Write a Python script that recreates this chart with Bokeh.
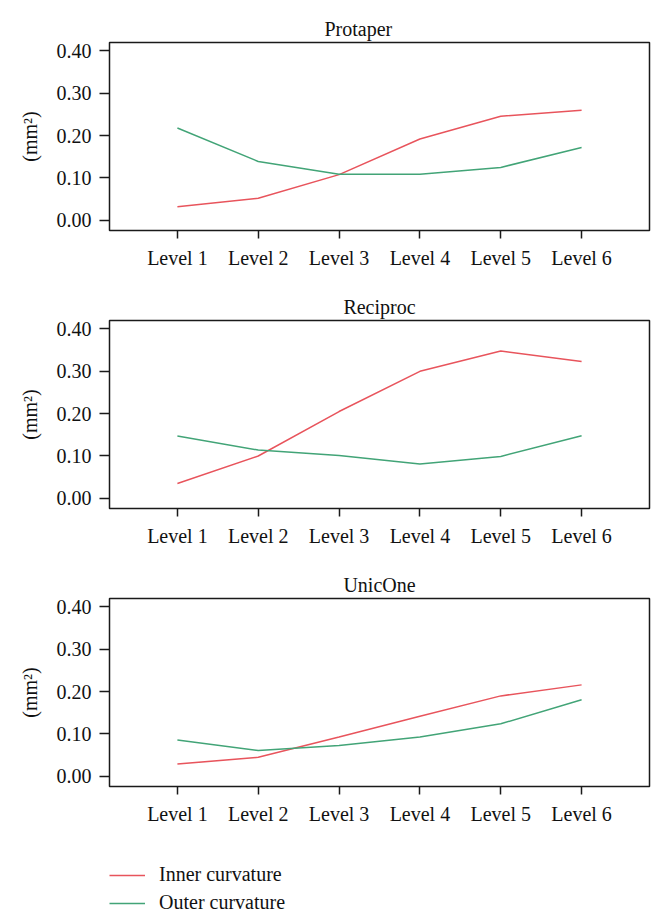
from bokeh.plotting import figure
from bokeh.models import FixedTicker, Legend, LegendItem, Range1d
from bokeh.layouts import column
from bokeh.embed import file_html
from bokeh.resources import INLINE

levels = ["Level 1", "Level 2", "Level 3", "Level 4", "Level 5", "Level 6"]
level_pos = [1, 2, 3, 4, 5, 6]
titles = ["Protaper", "Reciproc", "UnicOne"]

protaper_inner = [0.032, 0.052, 0.108, 0.192, 0.246, 0.260]
protaper_outer = [0.218, 0.139, 0.109, 0.109, 0.125, 0.172]
reciproc_inner = [0.035, 0.100, 0.205, 0.300, 0.348, 0.323]
reciproc_outer = [0.147, 0.114, 0.101, 0.081, 0.099, 0.148]
unicone_inner = [0.029, 0.045, 0.093, 0.142, 0.190, 0.216]
unicone_outer = [0.086, 0.061, 0.073, 0.093, 0.124, 0.181]

y_ticks = [0.0, 0.1, 0.2, 0.3, 0.4]
y_tick_labels = ["0.00", "0.10", "0.20", "0.30", "0.40"]
y_label = "(mm\u00b2)"
legend_labels = ["Inner curvature", "Outer curvature"]

RED = "#E8545C"
GREEN = "#42A477"
FONT = "Liberation Serif"
FS = "20px"


def make(title, inner, outer, height, top, bottom, title_left_offset=None):
    p = figure(width=656, height=height, output_backend="svg", toolbar_location=None,
               x_range=Range1d(0.16, 6.84), y_range=Range1d(-0.024, 0.42),
               min_border_left=108, min_border_right=7, min_border_top=top,
               min_border_bottom=bottom)
    p.grid.visible = False
    p.outline_line_color = "#1a1a1a"
    p.outline_line_width = 1.5
    p.background_fill_color = "white"
    p.border_fill_color = "white"

    p.title.text = title
    p.title.text_font = FONT
    p.title.text_font_size = FS
    p.title.text_font_style = "normal"
    p.title.text_color = "#111111"
    p.title.standoff = 6
    if title_left_offset is None:
        p.title.align = "center"
    else:
        p.title.align = "left"
        p.title.offset = title_left_offset

    xa = p.xaxis[0]
    xa.ticker = FixedTicker(ticks=level_pos)
    xa.major_label_overrides = {k: v for k, v in zip(level_pos, levels)}
    xa.axis_line_color = None
    xa.major_tick_line_color = "#1a1a1a"
    xa.major_tick_line_width = 1.5
    xa.major_tick_in = 0
    xa.major_tick_out = 8
    xa.minor_tick_line_color = None
    xa.major_label_standoff = 8
    xa.major_label_text_font = FONT
    xa.major_label_text_font_size = FS
    xa.major_label_text_color = "#111111"

    ya = p.yaxis[0]
    ya.ticker = FixedTicker(ticks=y_ticks)
    ya.major_label_overrides = {k: v for k, v in zip(y_ticks, y_tick_labels)}
    ya.axis_line_color = None
    ya.major_tick_line_color = "#1a1a1a"
    ya.major_tick_line_width = 1.5
    ya.major_tick_in = 0
    ya.major_tick_out = 10
    ya.minor_tick_line_color = None
    ya.major_label_standoff = 8
    ya.major_label_text_font = FONT
    ya.major_label_text_font_size = FS
    ya.major_label_text_color = "#111111"
    ya.axis_label = y_label
    ya.axis_label_text_font = FONT
    ya.axis_label_text_font_size = FS
    ya.axis_label_text_font_style = "normal"
    ya.axis_label_text_color = "#111111"
    ya.axis_label_standoff = 13

    p.line(level_pos, inner, line_color=RED, line_width=1.5)
    p.line(level_pos, outer, line_color=GREEN, line_width=1.5)
    return p


p1 = make(titles[0], protaper_inner, protaper_outer, 286, 42, 56, title_left_offset=215)
p2 = make(titles[1], reciproc_inner, reciproc_outer, 278, 34, 56)
p3 = make(titles[2], unicone_inner, unicone_outer, 278, 34, 56)

# legend strip below the three panels (its series lie outside the visible range)
p4 = figure(width=656, height=78, output_backend="svg", toolbar_location=None,
            x_range=Range1d(-20, -10), y_range=Range1d(-20, -10),
            x_axis_location=None, y_axis_location=None,
            min_border_left=109, min_border_top=21, min_border_right=0,
            min_border_bottom=0)
p4.grid.visible = False
p4.outline_line_color = None
r1 = p4.line(level_pos, unicone_inner, line_color=RED, line_width=1.5)
r2 = p4.line(level_pos, unicone_outer, line_color=GREEN, line_width=1.5)
legend = Legend(items=[LegendItem(label=legend_labels[0], renderers=[r1]),
                       LegendItem(label=legend_labels[1], renderers=[r2])],
                location="top_left", orientation="vertical",
                border_line_color=None, background_fill_alpha=0,
                label_text_font=FONT, label_text_font_size=FS,
                label_text_color="#111111",
                glyph_width=36, glyph_height=20, label_height=20,
                label_standoff=14, spacing=5, padding=0, margin=0)
p4.add_layout(legend, "center")

layout = column(p1, p2, p3, p4, spacing=0)
open("out.html", "w").write(file_html(layout, INLINE))
